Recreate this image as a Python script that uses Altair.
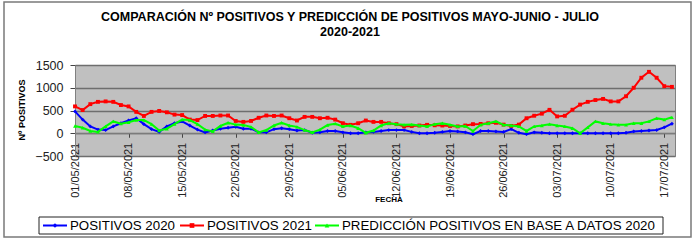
import json
import datetime as dt
import altair as alt
import pandas as pd

# ---------------- data ----------------
series = ["POSITIVOS 2020", "POSITIVOS 2021", "PREDICCIÓN POSITIVOS EN BASE A DATOS 2020"]
colores = ["#0000ff", "#ff0000", "#00ff00"]
formas = ["diamond", "square", "triangle-up"]

positivos_2020 = [480, 300, 150, 80, 70, 150, 220, 280, 330, 200, 90, 30, 150, 220, 260,
                  170, 80, 20, 60, 100, 120, 140, 100, 100, 20, 20, 90, 110, 90, 60,
                  70, 10, 20, 50, 50, 20, 0, 0, 20, 30, 50, 70, 70, 70, 30,
                  0, 0, 10, 30, 50, 40, 20, -20, 50, 50, 40, 30, 90, 10, -20,
                  20, 10, 0, 0, 0, 0, 0, 0, 0, 0, 0, 0, 10, 40, 50,
                  60, 70, 130, 210]

positivos_2021 = [590, 510, 640, 690, 700, 690, 620, 590, 470, 380, 470, 490, 460, 410, 400,
                  300, 290, 380, 380, 390, 390, 270, 250, 270, 340, 390, 380, 390, 330, 280,
                  360, 360, 330, 340, 300, 220, 185, 220, 280, 250, 250, 220, 200, 150, 160,
                  170, 185, 175, 170, 160, 150, 170, 200, 205, 220, 230, 190, 160, 190, 330,
                  385, 430, 515, 370, 384, 517, 630, 690, 730, 755, 700, 700, 813, 1000, 1220,
                  1350, 1220, 1035, 1020]

prediccion = [160, 120, 50, 30, 150, 260, 210, 240, 290, 290, 200, 60, 100, 200, 300,
              290, 200, 80, 40, 160, 230, 190, 180, 140, 20, 70, 170, 230, 170, 140,
              70, 20, 80, 180, 210, 150, 170, 110, 10, 60, 170, 220, 200, 185, 190,
              170, 150, 200, 220, 185, 150, 160, 50, 185, 220, 260, 185, 170, 150, 50,
              150, 170, 200, 170, 150, 110, 0, 130, 260, 220, 200, 185, 185, 220, 220,
              260, 330, 300, 350]

valores = [positivos_2020, positivos_2021, prediccion]

inicio = dt.date(2021, 5, 1)
fechas = [(inicio + dt.timedelta(days=i)).strftime("%d/%m/%Y") for i in range(len(positivos_2021))]
etiquetas_x = fechas[::7]
ticks_y = [-500, 0, 500, 1000, 1500]

titulo = ["COMPARACIÓN Nº POSITIVOS Y PREDICCIÓN DE POSITIVOS MAYO-JUNIO - JULIO", "2020-2021"]
titulo_y = "Nº POSITIVOS"
titulo_x = "FECHA"

FONT = "Liberation Sans"

# ---------------- encodings ----------------
W, H = 600, 91
x_enc = alt.X(
    "dia:Q",
    scale=alt.Scale(domain=[0, 78.4], nice=False, zero=False),
    axis=alt.Axis(
        values=list(range(0, 7 * len(etiquetas_x), 7)),
        labelExpr=json.dumps(etiquetas_x) + "[round(datum.value / 7)]",
        labelAngle=270,
        labelFontSize=11,
        labelFont=FONT,
        labelColor="#222222",
        labelPadding=5,
        labelOverlap=False,
        labelFlush=False,
        tickSize=4,
        tickColor="#444444",
        domainColor="#808080",
        grid=False,
        offset=-(H * 500 / 2000),
        title=None,
    ),
)
y_enc = alt.Y(
    "valor:Q",
    scale=alt.Scale(domain=[-500, 1500], nice=False),
    axis=alt.Axis(
        values=ticks_y,
        format="d",
        grid=True,
        gridColor="#6e6e6e",
        gridWidth=1.5,
        labelFontSize=12.5,
        labelFont=FONT,
        labelColor="#222222",
        labelPadding=7,
        tickSize=5,
        tickColor="#444444",
        domainColor="#808080",
        title=None,
    ),
)

layers = []
for nombre, vals, col, forma in zip(series, valores, colores, formas):
    df = pd.DataFrame({"dia": list(range(len(vals))), "valor": vals, "serie": nombre})
    base = alt.Chart(df).encode(x=x_enc, y=y_enc)
    layers.append(base.mark_line(color=col, strokeWidth=2))
    layers.append(base.mark_point(shape=forma, filled=True, size=15, color=col, opacity=1))

# ---------------- texts ----------------
def texto(t, x, y, size, bold=False, angle=0, align="center"):
    return alt.Chart(alt.Data(values=[{"t": t}])).mark_text(
        font=FONT, fontSize=size, fontWeight="bold" if bold else "normal",
        angle=angle, align=align, baseline="middle", color="#000000",
    ).encode(x=alt.value(x), y=alt.value(y), text="t:N")

# outer frame
marco = alt.Chart(alt.Data(values=[{"a": 1}])).mark_rect(
    fill="#ffffff", fillOpacity=0, stroke="#7a7a7a", strokeWidth=1.5
).encode(x=alt.value(-71), x2=alt.value(616), y=alt.value(-63), y2=alt.value(172))

textos = [
    texto(titulo[0], 275, -48, 12.5, bold=True),
    texto(titulo[1], 275, -33, 12.5, bold=True),
    texto(titulo_y, -53, 45, 9, bold=True, angle=270),
    texto(titulo_x, 314, 135, 8, bold=True),
]

# legend
caja = alt.Chart(alt.Data(values=[{"a": 1}])).mark_rect(
    fill="#ffffff", stroke="#222222", strokeWidth=1
).encode(x=alt.value(-36), x2=alt.value(588), y=alt.value(152), y2=alt.value(169))

leyenda = [caja]
ly = 160.5
posiciones = [-32, 105, 240]
for nombre, col, forma, px in zip(series, colores, formas, posiciones):
    one = alt.Chart(alt.Data(values=[{"t": nombre}]))
    leyenda.append(one.mark_rule(color=col, strokeWidth=2).encode(
        x=alt.value(px), x2=alt.value(px + 24), y=alt.value(ly)))
    leyenda.append(one.mark_point(shape=forma, filled=True, size=22, color=col, opacity=1).encode(
        x=alt.value(px + 12), y=alt.value(ly)))
    leyenda.append(one.mark_text(font=FONT, fontSize=13.3, align="left", baseline="middle",
                                 color="#000000").encode(
        x=alt.value(px + 27), y=alt.value(ly + 0.5), text="t:N"))

chart = alt.layer(marco, *layers, *textos, *leyenda).properties(
    width=W, height=H,
    autosize=alt.AutoSizeParams(type="none"),
    padding={"left": 75, "top": 65, "right": 25, "bottom": 89},
    background="#ffffff",
).configure_view(fill="#c0c0c0", stroke="#808080", strokeWidth=1)

chart.save("out.html", embed_options={"renderer": "svg", "actions": False})
